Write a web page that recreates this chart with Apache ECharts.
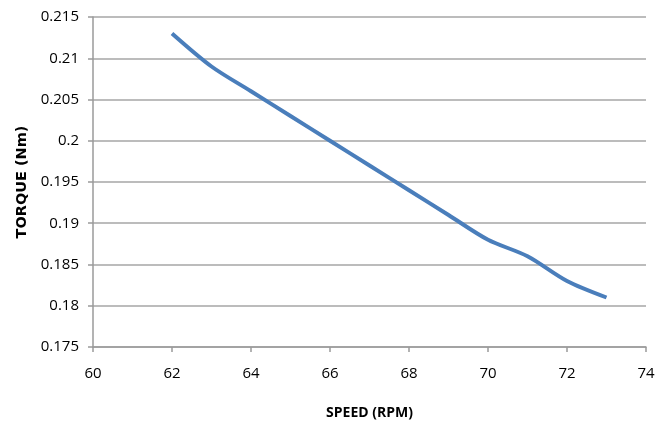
<!DOCTYPE html>
<html>
<head>
<meta charset="utf-8">
<script src="https://cdn.jsdelivr.net/npm/echarts@6/dist/echarts.min.js"></script>
<style>
html,body{margin:0;padding:0;background:#fff;}
#c{width:669px;height:421px;}
</style>
</head>
<body>
<div id="c"></div>
<script>
var speed = [62, 63, 64, 65, 66, 67, 68, 69, 70, 71, 72, 73];
var torque = [0.213, 0.209, 0.206, 0.203, 0.200, 0.197, 0.194, 0.191, 0.188, 0.186, 0.183, 0.181];
var xTitle = 'SPEED (RPM)';
var yTitle = 'TORQUE (Nm)';

var data = speed.map(function (s, i) { return [s, torque[i]]; });
var font = '"Open Sans", "Liberation Sans", sans-serif';
var chart = echarts.init(document.getElementById('c'));
chart.setOption({
  animation: false,
  grid: { left: 93, right: 23, top: 17, bottom: 74, containLabel: false, outerBoundsMode: 'none' },
  xAxis: {
    type: 'value', min: 60, max: 74, interval: 2,
    name: xTitle, nameLocation: 'middle', nameGap: 59,
    nameTextStyle: { fontFamily: font, fontWeight: 'bold', fontSize: 14, color: '#000' },
    axisLine: { show: true, lineStyle: { color: '#9a9a9a', width: 1.5 } },
    axisTick: { show: true, length: 5, lineStyle: { color: '#9a9a9a', width: 1.5 } },
    axisLabel: { fontFamily: font, fontSize: 15, color: '#000', margin: 19 },
    splitLine: { show: false }
  },
  yAxis: {
    type: 'value', min: 0.175, max: 0.215, interval: 0.005,
    name: yTitle, nameLocation: 'middle', nameGap: 62, nameRotate: 90,
    nameTextStyle: { fontFamily: '"DejaVu Sans", sans-serif', fontWeight: 'bold', fontSize: 14.5, color: '#000' },
    axisLine: { show: true, lineStyle: { color: '#9a9a9a', width: 1.5 } },
    axisTick: { show: true, length: 5, lineStyle: { color: '#9a9a9a', width: 1.5 } },
    axisLabel: { fontFamily: font, fontSize: 15, color: '#000', margin: 14,
      formatter: function (v) { return String(parseFloat(v.toFixed(3))); } },
    splitLine: { show: true, lineStyle: { color: '#a6a6a6', width: 1.5 } }
  },
  series: [{
    type: 'line', data: data, smooth: 0.3, showSymbol: false,
    lineStyle: { color: '#4a7ebb', width: 4 }
  }]
});
</script>
</body>
</html>
